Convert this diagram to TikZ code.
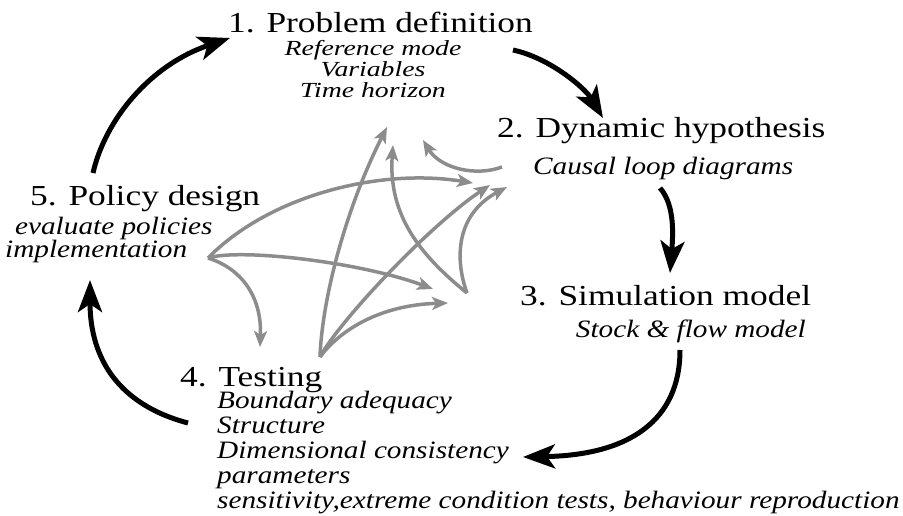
\documentclass[tikz,border=0pt]{standalone}
\usepackage{fontspec}
\setmainfont{Liberation Serif}
\usepackage{graphicx}
\usetikzlibrary{arrows.meta}
\definecolor{grayarrow}{RGB}{140,140,140}
\newcommand{\ttltext}[1]{\scalebox{1.22}[1]{\fontsize{29}{32}\selectfont #1}}
\newcommand{\itlc}[2]{\scalebox{1.29}[1]{\fontsize{21.5}{#1}\selectfont\itshape\lineskiplimit=-100pt\lineskip=0pt\vtop{\halign{\hfil##\hfil\cr#2\crcr}}}}
\newcommand{\itll}[2]{\scalebox{1.17}[1]{\fontsize{25}{#1}\selectfont\itshape\lineskiplimit=-100pt\lineskip=0pt\vtop{\halign{##\hfil\cr#2\crcr}}}}
\begin{document}
\begin{tikzpicture}[x=1pt,y=1pt,
  titlenode/.style={inner sep=0pt, anchor=base west},
  subnode/.style={inner sep=0pt},
  blk/.style={line width=5pt, -{Stealth[length=32pt,width=24pt,inset=8pt]}},
  gry/.style={draw=grayarrow, line width=3.5pt, -{Stealth[length=16pt,width=13pt,inset=4pt]}}]
\path[use as bounding box] (0,0) rectangle (903,-516);
% titles
\node[titlenode] (t1) at (228,-33) {\ttltext{1. Problem definition}};
\node[titlenode] (t2) at (497,-138) {\ttltext{2. Dynamic hypothesis}};
\node[titlenode] (t3) at (520,-305) {\ttltext{3. Simulation model}};
\node[titlenode] (t4) at (180,-386) {\ttltext{4. Testing}};
\node[titlenode] (t5) at (30,-205) {\ttltext{5. Policy design}};
% subtitles
\node[subnode, anchor=base] (s1) at (373,-56) {\itlc{21pt}{Reference mode\cr Variables\cr Time horizon}};
\node[subnode, anchor=base west] (s2) at (533,-175) {\itll{20pt}{Causal loop diagrams}};
\node[subnode, anchor=base east] (s3) at (806,-337) {\itll{20pt}{Stock \& flow model}};
\node[subnode, anchor=base west] (s4) at (217,-408) {\itll{25pt}{Boundary adequacy\cr Structure\cr Dimensional consistency\cr parameters\cr sensitivity,extreme condition tests, behaviour reproduction}};
\node[subnode, anchor=base west] (s5) at (5,-234) {\itll{24pt}{\hskip 8.5pt evaluate policies\cr implementation}};
% ports of the main cycle
\coordinate (p5a) at (93,-173);  \coordinate (p1a) at (230,-38);
\coordinate (p1b) at (513,-50);  \coordinate (p2a) at (603,-118);
\coordinate (p2b) at (660,-188); \coordinate (p3a) at (670,-273);
\coordinate (p3b) at (680,-350); \coordinate (p4a) at (523,-457);
\coordinate (p4b) at (188,-423); \coordinate (p5b) at (90,-280);
% main cycle
\draw[blk] (p5a) .. controls (105,-120) and (150,-65) .. (p1a);
\draw[blk] (p1b) .. controls (550,-58) and (585,-88) .. (p2a);
\draw[blk] (p2b) .. controls (675,-205) and (673,-235) .. (p3a);
\draw[blk] (p3b) .. controls (680,-420) and (630,-455) .. (p4a);
\draw[blk] (p4b) .. controls (120,-405) and (90,-360) .. (p5b);
% hubs and targets of the inner links
\coordinate (h5) at (208,-258);
\coordinate (h4) at (320,-357);
\coordinate (h3) at (467,-293);
\coordinate (h2) at (502,-167);
\coordinate (in1a) at (387,-127);
\coordinate (in1b) at (393,-145);
\coordinate (in1c) at (423,-140);
\coordinate (in2a) at (473,-183);
\coordinate (in2b) at (490,-185);
\coordinate (in2c) at (507,-187);
\coordinate (in3a) at (433,-289);
\coordinate (in3b) at (448,-303);
\coordinate (in4a) at (260,-347);
% inner links
\draw[gry] (h5) .. controls (270,-195) and (380,-168) .. (in2a);
\draw[gry] (h5) .. controls (240,-248) and (360,-262) .. (in3a);
\draw[gry] (h5) .. controls (240,-268) and (262,-295) .. (in4a);
\draw[gry] (h4) .. controls (322,-300) and (345,-210) .. (in1a);
\draw[gry] (h4) .. controls (340,-320) and (430,-225) .. (in2b);
\draw[gry] (h4) .. controls (340,-330) and (380,-305) .. (in3b);
\draw[gry] (h3) .. controls (420,-255) and (388,-215) .. (in1b);
\draw[gry] (h3) .. controls (455,-260) and (455,-215) .. (in2c);
\draw[gry] (h2) .. controls (475,-177) and (440,-168) .. (in1c);
\end{tikzpicture}
\end{document}
